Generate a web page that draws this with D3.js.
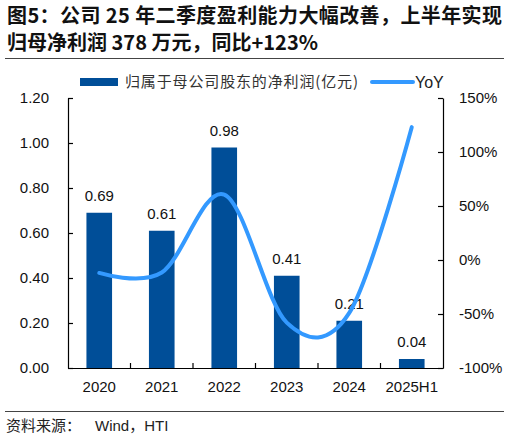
<!DOCTYPE html>
<html>
<head>
<meta charset="utf-8">
<script src="https://cdn.jsdelivr.net/npm/d3@7"></script>
<style>
  body { margin: 0; background: #fff; }
  svg { display: block; }
</style>
</head>
<body>
<div id="chart"></div>
<script>
// data
const years = ['2020', '2021', '2022', '2023', '2024', '2025H1']
const profit = [0.69, 0.61, 0.98, 0.41, 0.21, 0.04]      // 亿元
const yoy = [-12, -11.6, 60.6, -58, -49, 123]            // %
const leftTicks = [0, 0.2, 0.4, 0.6, 0.8, 1.0, 1.2]
const rightTicks = [-100, -50, 0, 50, 100, 150]
const titleLines = ['图5：公司 25 年二季度盈利能力大幅改善，上半年实现', '归母净利润 378 万元，同比+123%']
const legendNames = ['归属于母公司股东的净利润(亿元)', 'YoY']
const sourceParts = ['资料来源：', 'Wind', '，', 'HTI']

var W = 510, H = 439
var margin = {top: 98, right: 67, bottom: 71, left: 68}
var width = W - margin.left - margin.right,
    height = H - margin.top - margin.bottom

var numFont = '"Liberation Sans", Arial, sans-serif'
var cjkFont = '"Noto Sans CJK SC", "Noto Sans", sans-serif'

var svg = d3.select('#chart').append('svg')
  .attr('width', W)
  .attr('height', H)

// title, first line stretched to the full width like the original
svg.selectAll('text.title')
  .data(titleLines)
  .enter().append('text')
    .attr('class', 'title')
    .attr('x', 7)
    .attr('y', function(d, i) { return 23 + i * 27 })
    .attr('font-family', cjkFont)
    .attr('font-weight', 'bold')
    .attr('font-size', 20)
    .attr('fill', '#111')
    .attr('textLength', function(d, i) { return i === 0 ? 495 : null })
    .attr('lengthAdjust', 'spacing')
    .text(function(d) { return d })

svg.append('line')
  .attr('x1', 5).attr('x2', 504)
  .attr('y1', 58.5).attr('y2', 58.5)
  .attr('stroke', '#444').attr('stroke-width', 1)

// legend
var lg = svg.append('g')
lg.append('rect')
  .attr('x', 80).attr('y', 78).attr('width', 38).attr('height', 8)
  .attr('fill', '#004e98')
lg.append('text')
  .attr('x', 125).attr('y', 87)
  .attr('font-family', cjkFont).attr('font-size', 15)
  .attr('fill', '#333')
  .attr('textLength', 233).attr('lengthAdjust', 'spacing')
  .text(legendNames[0])
lg.append('line')
  .attr('x1', 372).attr('x2', 413).attr('y1', 82).attr('y2', 82)
  .attr('stroke', '#3399ff').attr('stroke-width', 4).attr('stroke-linecap', 'round')
lg.append('text')
  .attr('x', 415).attr('y', 88)
  .attr('font-family', numFont).attr('font-size', 16)
  .attr('fill', '#222')
  .text(legendNames[1])

var g = svg.append('g')
  .attr('transform', 'translate(' + margin.left + ',' + margin.top + ')')

var x = d3.scaleBand()
  .domain(years)
  .range([0, width])

var y = d3.scaleLinear()
  .domain([0, 1.2])
  .range([height, 0])

var y2 = d3.scaleLinear()
  .domain([-100, 150])
  .range([height, 0])

var barW = x.bandwidth() * 0.41

// bars
g.append('g')
  .selectAll('rect')
  .data(profit)
  .enter().append('rect')
    .attr('x', function(d, i) { return x(years[i]) + (x.bandwidth() - barW) / 2 })
    .attr('y', function(d) { return y(d) })
    .attr('width', barW)
    .attr('height', function(d) { return height - y(d) })
    .attr('fill', '#004e98')

// bar labels
g.append('g')
  .selectAll('text')
  .data(profit)
  .enter().append('text')
    .attr('x', function(d, i) { return x(years[i]) + x.bandwidth() / 2 })
    .attr('y', function(d) { return y(d) - 12 })
    .attr('text-anchor', 'middle')
    .attr('font-family', numFont)
    .attr('font-size', 15)
    .attr('fill', '#111')
    .text(function(d) { return d.toFixed(2) })

// yoy line
var line = d3.line()
  .x(function(d, i) { return x(years[i]) + x.bandwidth() / 2 })
  .y(function(d) { return y2(d) })
  .curve(d3.curveCardinal.tension(0))

g.append('path')
  .datum(yoy)
  .attr('d', line)
  .attr('fill', 'none')
  .attr('stroke', '#3399ff')
  .attr('stroke-width', 4)
  .attr('stroke-linecap', 'round')

// left axis
var ya = g.append('g')
  .call(d3.axisLeft(y).tickValues(leftTicks).tickSizeInner(-5).tickSizeOuter(0)
    .tickPadding(19).tickFormat(d3.format('.2f')))
// right axis
var ya2 = g.append('g')
  .attr('transform', 'translate(' + width + ',0)')
  .call(d3.axisRight(y2).tickValues(rightTicks).tickSizeInner(-5).tickSizeOuter(0)
    .tickPadding(16).tickFormat(function(d) { return d + '%' }))
// bottom axis, ticks sit between the categories
var xa = g.append('g')
  .attr('transform', 'translate(0,' + height + ')')
  .call(d3.axisBottom(x).tickSize(0).tickPadding(13))
xa.selectAll('.bnd')
  .data(years.slice(1))
  .enter().append('line')
    .attr('class', 'bnd')
    .attr('x1', function(d) { return x(d) })
    .attr('x2', function(d) { return x(d) })
    .attr('y1', 0).attr('y2', -5)
    .attr('stroke', '#000')

;[ya, ya2, xa].forEach(function(a) {
  a.selectAll('path, line').attr('stroke', '#000').attr('stroke-width', 1.2)
  a.selectAll('text')
    .attr('font-family', numFont)
    .attr('font-size', 15)
    .attr('fill', '#111')
})

// source: CJK parts in the CJK font, latin parts in the sans
svg.append('line')
  .attr('x1', 5).attr('x2', 504)
  .attr('y1', 411.5).attr('y2', 411.5)
  .attr('stroke', '#444').attr('stroke-width', 1)
svg.append('text')
  .attr('x', 6).attr('y', 431)
  .attr('font-size', 15)
  .attr('fill', '#222')
  .selectAll('tspan')
  .data(sourceParts)
  .enter().append('tspan')
    .attr('font-family', function(d, i) { return i % 2 === 0 ? cjkFont : numFont })
    .attr('dx', function(d, i) { return i === 1 ? 14 : 0 })
    .text(function(d) { return d })
</script>
</body>
</html>
